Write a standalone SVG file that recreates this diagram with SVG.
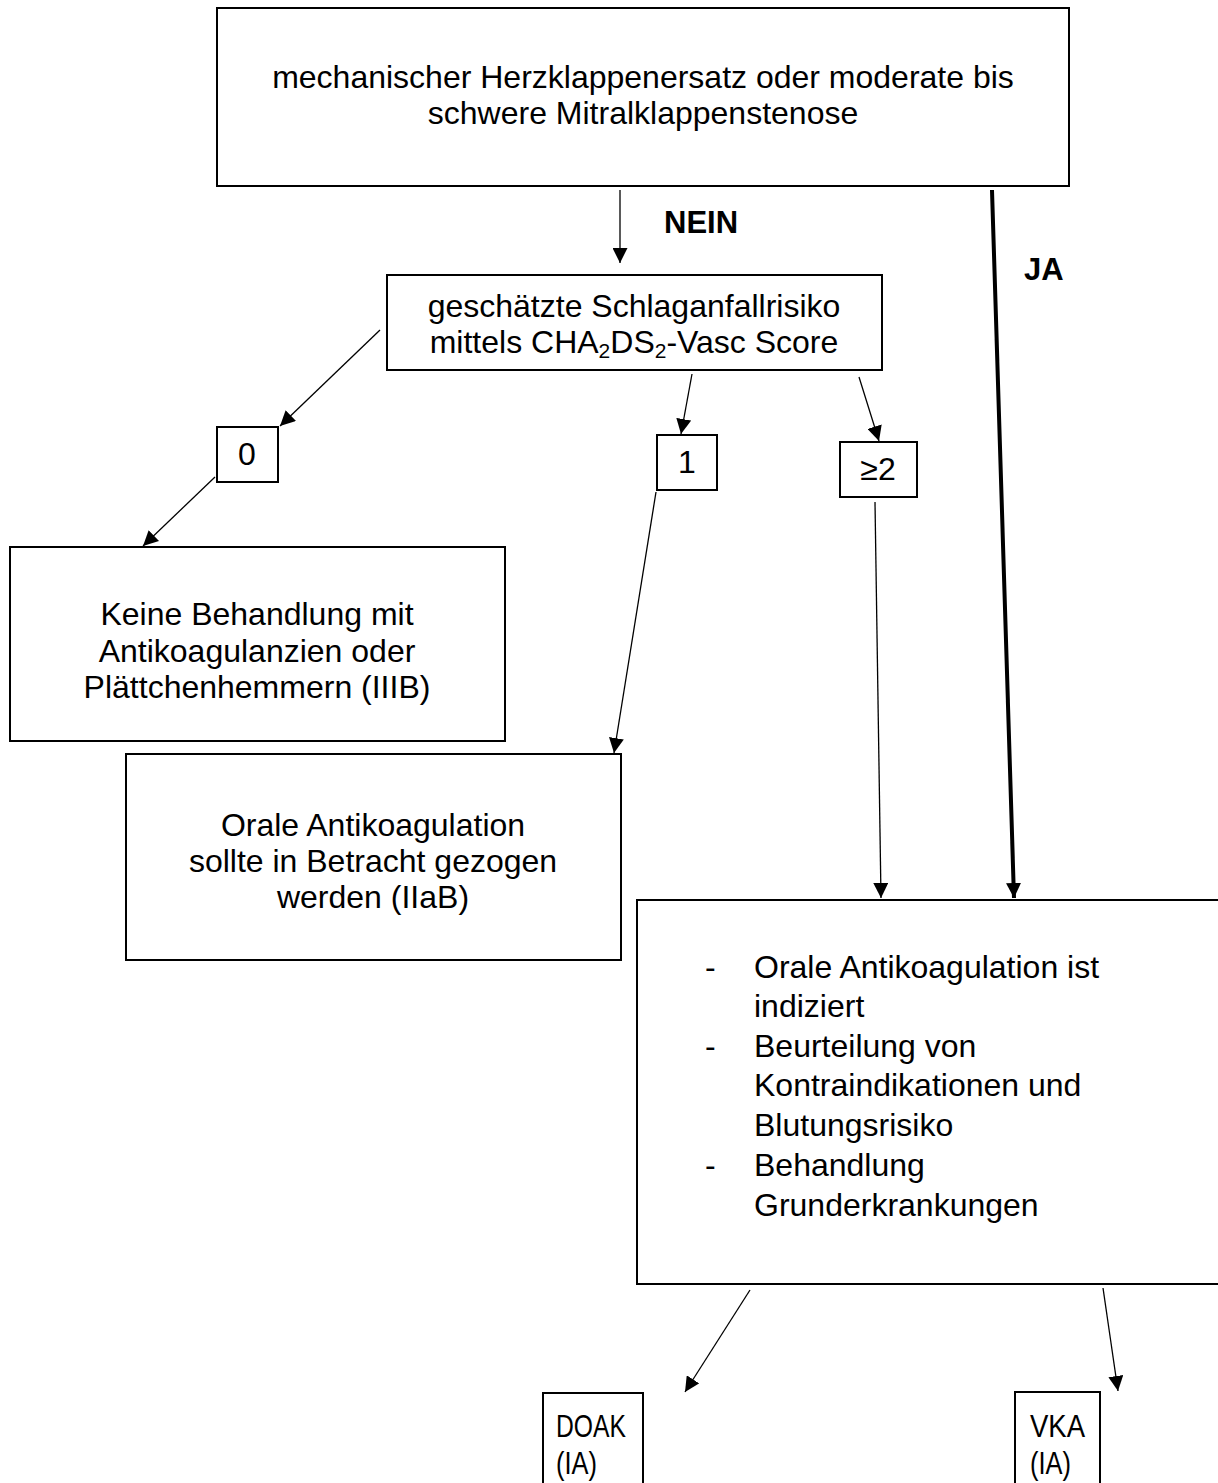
<svg xmlns="http://www.w3.org/2000/svg" width="1218" height="1483" viewBox="0 0 1218 1483">
<style>
  .box { fill: #ffffff; stroke: #000000; stroke-width: 2; }
  .t { font-family: "Liberation Sans", Arial, sans-serif; font-size: 32px; fill: #000000; }
  .c { text-anchor: middle; }
  .b { font-weight: bold; font-size: 31px; }
  .ln { stroke: #000000; stroke-width: 1.3; fill: none; marker-end: url(#ah); }
  .thick { stroke: #000000; stroke-width: 4; fill: none; marker-end: url(#ah); }
</style>
<defs>
  <marker id="ah" markerUnits="userSpaceOnUse" markerWidth="15" markerHeight="15" refX="15" refY="7.5" orient="auto">
    <path d="M0,0 L15,7.5 L0,15 z" fill="#000000"/>
  </marker>
</defs>
<rect width="1218" height="1483" fill="#ffffff"/>

<g id="connectors">
  <line class="ln" x1="620" y1="190" x2="620" y2="263"/>
  <line class="ln" x1="380" y1="330" x2="280" y2="426"/>
  <line class="ln" x1="215" y1="477" x2="143" y2="546"/>
  <line class="ln" x1="692" y1="374" x2="681" y2="434"/>
  <line class="ln" x1="859" y1="377" x2="879" y2="441"/>
  <line class="ln" x1="656" y1="492" x2="614" y2="753"/>
  <line class="ln" x1="875" y1="502" x2="881" y2="898"/>
  <line class="thick" x1="992" y1="190" x2="1014" y2="898"/>
  <line class="ln" x1="750" y1="1290" x2="685" y2="1392"/>
  <line class="ln" x1="1103" y1="1288" x2="1118" y2="1391"/>
  <text class="t b" x="664" y="233">NEIN</text>
  <text class="t b" x="1024" y="280">JA</text>
</g>

<g id="n-top">
  <rect class="box" x="217" y="8" width="852" height="178"/>
  <text class="t c" x="643" y="88">mechanischer Herzklappenersatz oder moderate bis</text>
  <text class="t c" x="643" y="124">schwere Mitralklappenstenose</text>
</g>

<g id="n-score">
  <rect class="box" x="387" y="275" width="495" height="95"/>
  <text class="t c" x="634" y="317">geschätzte Schlaganfallrisiko</text>
  <text class="t c" x="634" y="353">mittels CHA<tspan font-size="21" dy="5">2</tspan><tspan dy="-5">DS</tspan><tspan font-size="21" dy="5">2</tspan><tspan dy="-5">-Vasc Score</tspan></text>
</g>

<g id="n-0">
  <rect class="box" x="217" y="427" width="61" height="55"/>
  <text class="t c" x="247" y="465">0</text>
</g>

<g id="n-1">
  <rect class="box" x="657" y="435" width="60" height="55"/>
  <text class="t c" x="687" y="473">1</text>
</g>

<g id="n-2">
  <rect class="box" x="840" y="442" width="77" height="55"/>
  <text class="t c" x="878" y="480">≥2</text>
</g>

<g id="n-keine">
  <rect class="box" x="10" y="547" width="495" height="194"/>
  <text class="t c" x="257" y="625">Keine Behandlung mit</text>
  <text class="t c" x="257" y="662">Antikoagulanzien oder</text>
  <text class="t c" x="257" y="698">Plättchenhemmern (IIIB)</text>
</g>

<g id="n-orale">
  <rect class="box" x="126" y="754" width="495" height="206"/>
  <text class="t c" x="373" y="836">Orale Antikoagulation</text>
  <text class="t c" x="373" y="872">sollte in Betracht gezogen</text>
  <text class="t c" x="373" y="908">werden (IIaB)</text>
</g>

<g id="n-indiziert">
  <rect class="box" x="637" y="900" width="600" height="384"/>
  <text class="t" x="705" y="978">-</text>
  <text class="t" x="754" y="978">Orale Antikoagulation ist</text>
  <text class="t" x="754" y="1017">indiziert</text>
  <text class="t" x="705" y="1057">-</text>
  <text class="t" x="754" y="1057">Beurteilung von</text>
  <text class="t" x="754" y="1096">Kontraindikationen und</text>
  <text class="t" x="754" y="1136">Blutungsrisiko</text>
  <text class="t" x="705" y="1176">-</text>
  <text class="t" x="754" y="1176">Behandlung</text>
  <text class="t" x="754" y="1216">Grunderkrankungen</text>
</g>

<g id="n-doak">
  <rect class="box" x="543" y="1393" width="100" height="100"/>
  <text class="t" x="556" y="1437" textLength="70" lengthAdjust="spacingAndGlyphs">DOAK</text>
  <text class="t" x="556" y="1474" textLength="41" lengthAdjust="spacingAndGlyphs">(IA)</text>
</g>

<g id="n-vka">
  <rect class="box" x="1015" y="1392" width="85" height="100"/>
  <text class="t" x="1030" y="1437" textLength="55" lengthAdjust="spacingAndGlyphs">VKA</text>
  <text class="t" x="1030" y="1474" textLength="41" lengthAdjust="spacingAndGlyphs">(IA)</text>
</g>
</svg>
